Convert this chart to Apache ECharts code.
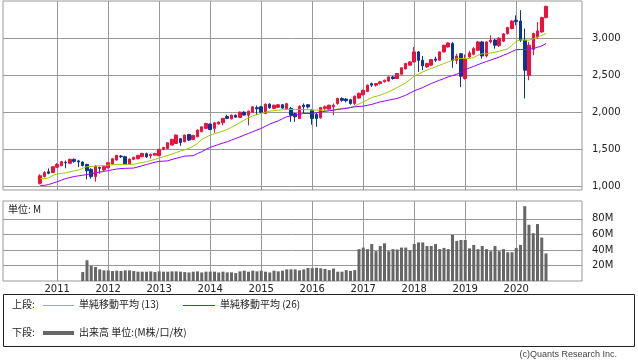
<!DOCTYPE html>
<html><head><meta charset="utf-8">
<script src="https://cdn.jsdelivr.net/npm/echarts@6/dist/echarts.min.js"></script>
<style>html,body{margin:0;padding:0;background:#fff}#c{width:638px;height:362px}</style>
</head><body><div id="c"></div>
<script>
// ---- data (monthly, Sep 2010 - Aug 2020) ----
const months = [
'2010-09','2010-10','2010-11','2010-12',
'2011-01','2011-02','2011-03','2011-04','2011-05','2011-06','2011-07','2011-08','2011-09','2011-10','2011-11','2011-12',
'2012-01','2012-02','2012-03','2012-04','2012-05','2012-06','2012-07','2012-08','2012-09','2012-10','2012-11','2012-12',
'2013-01','2013-02','2013-03','2013-04','2013-05','2013-06','2013-07','2013-08','2013-09','2013-10','2013-11','2013-12',
'2014-01','2014-02','2014-03','2014-04','2014-05','2014-06','2014-07','2014-08','2014-09','2014-10','2014-11','2014-12',
'2015-01','2015-02','2015-03','2015-04','2015-05','2015-06','2015-07','2015-08','2015-09','2015-10','2015-11','2015-12',
'2016-01','2016-02','2016-03','2016-04','2016-05','2016-06','2016-07','2016-08','2016-09','2016-10','2016-11','2016-12',
'2017-01','2017-02','2017-03','2017-04','2017-05','2017-06','2017-07','2017-08','2017-09','2017-10','2017-11','2017-12',
'2018-01','2018-02','2018-03','2018-04','2018-05','2018-06','2018-07','2018-08','2018-09','2018-10','2018-11','2018-12',
'2019-01','2019-02','2019-03','2019-04','2019-05','2019-06','2019-07','2019-08','2019-09','2019-10','2019-11','2019-12',
'2020-01','2020-02','2020-03','2020-04','2020-05','2020-06','2020-07','2020-08'];

const openP = [
1036,1130,1193,1182,
1255,1276,1322,1307,1361,1340,1324,1293,1226,1126,1250,1218,
1247,1297,1351,1405,1396,1297,1361,1369,1396,1437,1408,1418,
1410,1496,1509,1554,1577,1640,1599,1698,1630,1667,1734,1780,
1838,1780,1838,1855,1940,1909,1959,1928,2000,1959,1996,2060,
2072,1982,2108,2050,2065,2100,2045,2050,1980,1914,2094,2100,
2027,1969,1923,2050,2040,2072,2117,2185,2176,2167,2117,2190,
2235,2280,2385,2365,2385,2410,2420,2477,2455,2513,2585,2635,
2680,2815,2702,2612,2635,2720,2702,2815,2882,2928,2700,2790,
2455,2747,2783,2837,2950,2760,2950,2975,2900,2960,3063,3131,
3243,3233,2973,2500,2850,3018,3085,3279];
const closeP = [
1139,1182,1172,1261,
1293,1329,1314,1361,1334,1325,1276,1207,1128,1270,1240,1261,
1315,1369,1415,1396,1297,1365,1388,1415,1442,1396,1428,1440,
1496,1522,1585,1631,1689,1590,1689,1622,1685,1757,1801,1847,
1766,1855,1865,1915,1915,1959,1932,2000,1960,2013,2072,2045,
2000,2108,2060,2094,2100,2055,2115,1959,1937,2080,2072,2070,
1914,1914,2063,2072,2094,2094,2185,2160,2155,2117,2216,2255,
2295,2365,2365,2387,2410,2432,2477,2455,2522,2600,2658,2680,
2815,2702,2626,2658,2711,2702,2815,2905,2936,2700,2760,2486,
2725,2801,2860,2950,2760,2950,2975,2905,3000,3060,3144,3233,
3225,2973,2567,2905,3063,3099,3279,3432];
const lowP = [
1020,1115,1160,1175,
1245,1265,1240,1300,1315,1257,1265,1090,1099,1058,1166,1205,
1240,1290,1345,1380,1285,1290,1350,1360,1390,1380,1372,1412,
1405,1485,1500,1548,1570,1545,1592,1610,1620,1660,1728,1772,
1755,1720,1830,1820,1905,1900,1925,1920,1952,1820,1990,1959,
1985,1975,2045,2040,2055,2045,2030,1869,1869,1905,1982,2050,
1830,1801,1910,2020,2030,1959,2100,2140,2130,2100,2095,2180,
2225,2270,2340,2345,2375,2400,2412,2440,2448,2505,2578,2628,
2672,2544,2567,2600,2628,2680,2695,2808,2875,2600,2650,2338,
2440,2730,2770,2830,2725,2740,2930,2860,2880,2950,3050,3120,
3175,2950,2185,2432,2770,2990,3075,3270];
const highP = [
1160,1200,1238,1270,
1310,1340,1345,1370,1372,1350,1335,1300,1240,1278,1262,1272,
1322,1375,1422,1420,1410,1372,1395,1420,1448,1452,1438,1448,
1500,1530,1592,1640,1698,1650,1695,1705,1692,1765,1808,1855,
1848,1862,1872,1922,1965,1966,1968,2008,2010,2020,2080,2090,
2085,2115,2120,2100,2110,2110,2120,2070,1990,2090,2117,2110,
2040,1990,2070,2090,2100,2117,2195,2200,2190,2180,2225,2265,
2305,2372,2400,2395,2418,2440,2485,2490,2530,2608,2668,2690,
2882,2825,2760,2668,2720,2750,2822,2912,2945,2950,2790,2800,
2780,2830,2880,2960,2965,2958,3040,2990,3015,3070,3155,3245,
3310,3380,3131,2950,3075,3220,3290,3440];
const ma13 = [
1099,1099,1110,1145,
1162,1170,1180,1193,1205,1216,1239,1261,1265,1270,1274,1278,
1283,1288,1293,1293,1293,1293,1294,1307,1318,1329,1345,1361,
1378,1396,1414,1432,1452,1473,1490,1509,1540,1577,1631,1660,
1689,1708,1726,1746,1766,1795,1824,1858,1892,1921,1950,1966,
1982,1998,2013,2020,2027,2032,2036,2036,2036,2036,2036,2032,
2027,2027,2027,2027,2027,2030,2040,2050,2057,2063,2081,2110,
2139,2168,2198,2213,2229,2252,2274,2303,2333,2364,2396,2441,
2486,2515,2544,2567,2590,2612,2635,2658,2680,2702,2725,2725,
2725,2725,2740,2770,2790,2790,2800,2812,2825,2840,2858,2905,
2958,2978,2975,2975,2990,3015,3040,3063];
const ma26 = [
1009,1009,1020,1040,
1058,1080,1100,1115,1128,1138,1146,1155,1168,1178,1188,1198,
1207,1220,1230,1236,1239,1241,1243,1258,1274,1290,1307,1322,
1334,1337,1340,1360,1374,1390,1405,1408,1410,1440,1464,1495,
1523,1543,1563,1582,1599,1622,1644,1666,1689,1712,1734,1757,
1780,1809,1838,1860,1882,1910,1937,1950,1959,1970,1982,1982,
1982,1993,2004,2011,2018,2027,2036,2043,2050,2061,2072,2077,
2081,2093,2104,2122,2139,2150,2162,2174,2185,2207,2229,2258,
2288,2310,2333,2360,2387,2410,2432,2455,2477,2495,2513,2540,
2575,2597,2620,2643,2665,2685,2705,2725,2745,2770,2793,2820,
2847,2847,2847,2852,2860,2878,2896,2928];
const volumeM = [
null,null,null,null,
null,null,null,null,null,null,11.5,26.7,19.3,18,15,13.7,
13.7,12.8,13.3,12.8,13.7,13.7,12.8,12,12,12,12.4,11.5,
12.4,12,12,12.4,12.4,12,11.5,11,12,12.4,11,12,
12,12,11,12,11.1,11.1,10.2,12.4,13.3,12,13.3,12.4,
13.3,12,11,13.3,12.4,13.3,15,15,15,13.7,15,16.8,
16.5,17,16.3,15.6,14,16,12,12,14,13,14,41,
43,41,47.6,38.4,45,48.5,38.4,41,40.5,43,43,39.6,
47.6,49.7,49.7,45,45,47.6,41,42.6,41,59.4,51.6,52.8,
52.8,42,46.4,41,45,41,38.4,45,38.4,41,37,37,
42.6,46.4,96.3,72.4,61.6,73.3,55.9,35.5];
const yearLabels = ['2011','2012','2013','2014','2015','2016','2017','2018','2019','2020'];
const priceTicks = [1000,1500,2000,2500,3000];
const volumeTicks = [20,40,60,80];

// ---- build ----
const monthIndex = s => { const p = s.split('-').map(Number); return (p[0]-2010)*12 + p[1]-1; };
const xs = months.map(monthIndex);
const yearTicks = yearLabels.map(y => (Number(y)-2010)*12);
const candleData = xs.map((x,i)=>[x, openP[i], closeP[i], lowP[i], highP[i]]);
const ma13Data = xs.map((x,i)=>[x, ma13[i]]);
const ma26Data = xs.map((x,i)=>[x, ma26[i]]);
const volData = xs.map((x,i)=>[x, volumeM[i]]).filter(d=>d[1]!=null);

const GRID = '#999999';
const FONT = '"DejaVu Sans", sans-serif';
const JFONT = '"Noto Sans CJK JP", "DejaVu Sans", sans-serif';
const XMIN = -0.76, XMAX = 135.47;

const chart = echarts.init(document.getElementById('c'), null, {renderer:'canvas'});
const xCommon = (gi, showLabel) => ({
  type:'value', gridIndex:gi, min:XMIN, max:XMAX,
  axisLine:{show:false},
  axisTick:{show:false, customValues:yearTicks},
  axisLabel:{show:showLabel, customValues:yearTicks, formatter:v=>String(2010+Math.round(v/12)),
    color:'#222', fontSize:10, fontFamily:FONT, margin:3},
  splitLine:{show:true, lineStyle:{color:GRID, width:1}}
});
chart.setOption({
  animation:false,
  backgroundColor:'#ffffff',
  grid:[
    {left:3, top:1, width:579, height:189, show:true, borderColor:GRID, borderWidth:1, backgroundColor:'transparent'},
    {left:3, top:201, width:579, height:80, show:true, borderColor:GRID, borderWidth:1, backgroundColor:'transparent'}
  ],
  xAxis:[xCommon(0,false), xCommon(1,true)],
  yAxis:[
    {type:'value', gridIndex:0, position:'right', min:946, max:3504,
     axisLine:{show:false},
     axisTick:{show:true, length:4, lineStyle:{color:GRID}, customValues:priceTicks},
     axisLabel:{customValues:priceTicks, margin:10, color:'#222', fontSize:10, fontFamily:FONT,
       formatter:v=>v.toLocaleString('en-US')},
     splitLine:{show:true, lineStyle:{color:GRID, width:1}}},
    {type:'value', gridIndex:1, position:'right', min:0, max:103,
     axisLine:{show:false},
     axisTick:{show:false, customValues:volumeTicks},
     axisLabel:{customValues:volumeTicks, margin:10, color:'#222', fontSize:10, fontFamily:FONT,
       formatter:v=>v+'M'},
     splitLine:{show:true, lineStyle:{color:GRID, width:1}}}
  ],
  series:[
    {type:'candlestick', xAxisIndex:0, yAxisIndex:0, data:candleData, barWidth:3,
     itemStyle:{color:'#f0103c', color0:'#0a3597', borderColor:'#f0103c', borderColor0:'#0a3597', borderWidth:1}},
    {type:'line', xAxisIndex:0, yAxisIndex:0, data:ma13Data, symbol:'none', z:3,
     lineStyle:{color:'#99cc00', width:1}},
    {type:'line', xAxisIndex:0, yAxisIndex:0, data:ma26Data, symbol:'none', z:3,
     lineStyle:{color:'#9900ff', width:1}},
    {type:'bar', xAxisIndex:1, yAxisIndex:1, data:volData, barWidth:3,
     itemStyle:{color:'#666666'}}
  ],
  graphic:[
    {type:'text', left:8, top:204, style:{text:'単位: M', font:'10px '+JFONT, fill:'#222'}},
    {type:'rect', shape:{x:3.5, y:294.5, width:631, height:52}, style:{fill:'none', stroke:'#222', lineWidth:1}},
    {type:'text', left:12, top:299, style:{text:'上段:', font:'10px '+JFONT, fill:'#222'}},
    {type:'line', shape:{x1:43, y1:305.5, x2:74, y2:305.5}, style:{stroke:'#99cc00', lineWidth:1}},
    {type:'text', left:79, top:299, style:{text:'単純移動平均 (13)', font:'10px '+JFONT, fill:'#222'}},
    {type:'line', shape:{x1:183, y1:305.5, x2:215, y2:305.5}, style:{stroke:'#9900ff', lineWidth:1}},
    {type:'text', left:220, top:299, style:{text:'単純移動平均 (26)', font:'10px '+JFONT, fill:'#222'}},
    {type:'text', left:12, top:327, style:{text:'下段:', font:'10px '+JFONT, fill:'#222'}},
    {type:'line', shape:{x1:43, y1:333, x2:74, y2:333}, style:{stroke:'#666666', lineWidth:4}},
    {type:'text', left:79, top:327, style:{text:'出来高 単位:(M株/口/枚)', font:'10px '+JFONT, fill:'#222'}},
    {type:'text', right:21, top:350, style:{text:'(c)Quants Research Inc.', font:'9px "Liberation Sans", sans-serif', fill:'#444'}}
  ]
});
</script></body></html>
